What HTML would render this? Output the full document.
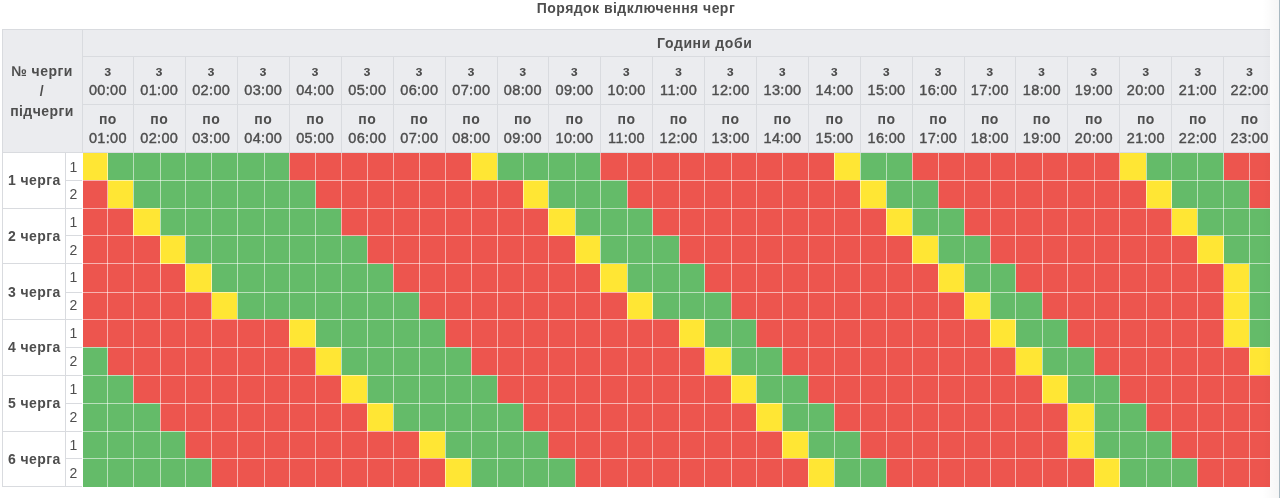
<!DOCTYPE html>
<html><head><meta charset="utf-8"><style>
html,body{margin:0;padding:0;background:#fff;}
body{width:1280px;height:498px;position:relative;overflow:hidden;font-family:"Liberation Sans",sans-serif;}
#g div{position:absolute;}
.t i{font-style:normal;font-weight:normal;font-size:14.5px;-webkit-text-stroke:0.4px #4e4e4e;letter-spacing:0.35px}
.t{position:absolute;font-size:14px;color:#4e4e4e;text-align:center;white-space:nowrap;}
</style></head><body>
<div id="g">
<div style="left:2.00px;top:29.00px;width:1268.00px;height:123.30px;background:#ebecef;"></div><div style="left:83.00px;top:152.00px;width:25.00px;height:28.00px;background:#ffe634;"></div><div style="left:108.00px;top:152.00px;width:181.00px;height:28.00px;background:#64bb69;"></div><div style="left:289.00px;top:152.00px;width:182.00px;height:28.00px;background:#ed554e;"></div><div style="left:471.00px;top:152.00px;width:26.00px;height:28.00px;background:#ffe634;"></div><div style="left:497.00px;top:152.00px;width:103.00px;height:28.00px;background:#64bb69;"></div><div style="left:600.00px;top:152.00px;width:234.00px;height:28.00px;background:#ed554e;"></div><div style="left:834.00px;top:152.00px;width:26.00px;height:28.00px;background:#ffe634;"></div><div style="left:860.00px;top:152.00px;width:52.00px;height:28.00px;background:#64bb69;"></div><div style="left:912.00px;top:152.00px;width:208.00px;height:28.00px;background:#ed554e;"></div><div style="left:1120.00px;top:152.00px;width:26.00px;height:28.00px;background:#ffe634;"></div><div style="left:1146.00px;top:152.00px;width:78.00px;height:28.00px;background:#64bb69;"></div><div style="left:1224.00px;top:152.00px;width:46.00px;height:28.00px;background:#ed554e;"></div><div style="left:83.00px;top:180.00px;width:25.00px;height:28.00px;background:#ed554e;"></div><div style="left:108.00px;top:180.00px;width:25.00px;height:28.00px;background:#ffe634;"></div><div style="left:133.00px;top:180.00px;width:183.00px;height:28.00px;background:#64bb69;"></div><div style="left:316.00px;top:180.00px;width:207.00px;height:28.00px;background:#ed554e;"></div><div style="left:523.00px;top:180.00px;width:25.00px;height:28.00px;background:#ffe634;"></div><div style="left:548.00px;top:180.00px;width:79.00px;height:28.00px;background:#64bb69;"></div><div style="left:627.00px;top:180.00px;width:233.00px;height:28.00px;background:#ed554e;"></div><div style="left:860.00px;top:180.00px;width:26.00px;height:28.00px;background:#ffe634;"></div><div style="left:886.00px;top:180.00px;width:52.00px;height:28.00px;background:#64bb69;"></div><div style="left:938.00px;top:180.00px;width:208.00px;height:28.00px;background:#ed554e;"></div><div style="left:1146.00px;top:180.00px;width:26.00px;height:28.00px;background:#ffe634;"></div><div style="left:1172.00px;top:180.00px;width:77.00px;height:28.00px;background:#64bb69;"></div><div style="left:1249.00px;top:180.00px;width:21.00px;height:28.00px;background:#ed554e;"></div><div style="left:83.00px;top:208.00px;width:50.00px;height:28.00px;background:#ed554e;"></div><div style="left:133.00px;top:208.00px;width:27.00px;height:28.00px;background:#ffe634;"></div><div style="left:160.00px;top:208.00px;width:181.00px;height:28.00px;background:#64bb69;"></div><div style="left:341.00px;top:208.00px;width:207.00px;height:28.00px;background:#ed554e;"></div><div style="left:548.00px;top:208.00px;width:27.00px;height:28.00px;background:#ffe634;"></div><div style="left:575.00px;top:208.00px;width:78.00px;height:28.00px;background:#64bb69;"></div><div style="left:653.00px;top:208.00px;width:233.00px;height:28.00px;background:#ed554e;"></div><div style="left:886.00px;top:208.00px;width:26.00px;height:28.00px;background:#ffe634;"></div><div style="left:912.00px;top:208.00px;width:52.00px;height:28.00px;background:#64bb69;"></div><div style="left:964.00px;top:208.00px;width:208.00px;height:28.00px;background:#ed554e;"></div><div style="left:1172.00px;top:208.00px;width:25.00px;height:28.00px;background:#ffe634;"></div><div style="left:1197.00px;top:208.00px;width:73.00px;height:28.00px;background:#64bb69;"></div><div style="left:83.00px;top:236.00px;width:77.00px;height:28.00px;background:#ed554e;"></div><div style="left:160.00px;top:236.00px;width:25.00px;height:28.00px;background:#ffe634;"></div><div style="left:185.00px;top:236.00px;width:182.00px;height:28.00px;background:#64bb69;"></div><div style="left:367.00px;top:236.00px;width:208.00px;height:28.00px;background:#ed554e;"></div><div style="left:575.00px;top:236.00px;width:25.00px;height:28.00px;background:#ffe634;"></div><div style="left:600.00px;top:236.00px;width:79.00px;height:28.00px;background:#64bb69;"></div><div style="left:679.00px;top:236.00px;width:233.00px;height:28.00px;background:#ed554e;"></div><div style="left:912.00px;top:236.00px;width:26.00px;height:28.00px;background:#ffe634;"></div><div style="left:938.00px;top:236.00px;width:52.00px;height:28.00px;background:#64bb69;"></div><div style="left:990.00px;top:236.00px;width:207.00px;height:28.00px;background:#ed554e;"></div><div style="left:1197.00px;top:236.00px;width:27.00px;height:28.00px;background:#ffe634;"></div><div style="left:1224.00px;top:236.00px;width:46.00px;height:28.00px;background:#64bb69;"></div><div style="left:83.00px;top:264.00px;width:102.00px;height:28.00px;background:#ed554e;"></div><div style="left:185.00px;top:264.00px;width:27.00px;height:28.00px;background:#ffe634;"></div><div style="left:212.00px;top:264.00px;width:181.00px;height:28.00px;background:#64bb69;"></div><div style="left:393.00px;top:264.00px;width:207.00px;height:28.00px;background:#ed554e;"></div><div style="left:600.00px;top:264.00px;width:27.00px;height:28.00px;background:#ffe634;"></div><div style="left:627.00px;top:264.00px;width:78.00px;height:28.00px;background:#64bb69;"></div><div style="left:705.00px;top:264.00px;width:233.00px;height:28.00px;background:#ed554e;"></div><div style="left:938.00px;top:264.00px;width:26.00px;height:28.00px;background:#ffe634;"></div><div style="left:964.00px;top:264.00px;width:52.00px;height:28.00px;background:#64bb69;"></div><div style="left:1016.00px;top:264.00px;width:208.00px;height:28.00px;background:#ed554e;"></div><div style="left:1224.00px;top:264.00px;width:25.00px;height:28.00px;background:#ffe634;"></div><div style="left:1249.00px;top:264.00px;width:21.00px;height:28.00px;background:#64bb69;"></div><div style="left:83.00px;top:292.00px;width:129.00px;height:27.00px;background:#ed554e;"></div><div style="left:212.00px;top:292.00px;width:25.00px;height:27.00px;background:#ffe634;"></div><div style="left:237.00px;top:292.00px;width:182.00px;height:27.00px;background:#64bb69;"></div><div style="left:419.00px;top:292.00px;width:208.00px;height:27.00px;background:#ed554e;"></div><div style="left:627.00px;top:292.00px;width:26.00px;height:27.00px;background:#ffe634;"></div><div style="left:653.00px;top:292.00px;width:78.00px;height:27.00px;background:#64bb69;"></div><div style="left:731.00px;top:292.00px;width:233.00px;height:27.00px;background:#ed554e;"></div><div style="left:964.00px;top:292.00px;width:26.00px;height:27.00px;background:#ffe634;"></div><div style="left:990.00px;top:292.00px;width:52.00px;height:27.00px;background:#64bb69;"></div><div style="left:1042.00px;top:292.00px;width:182.00px;height:27.00px;background:#ed554e;"></div><div style="left:1224.00px;top:292.00px;width:25.00px;height:27.00px;background:#ffe634;"></div><div style="left:1249.00px;top:292.00px;width:21.00px;height:27.00px;background:#64bb69;"></div><div style="left:83.00px;top:319.00px;width:206.00px;height:28.00px;background:#ed554e;"></div><div style="left:289.00px;top:319.00px;width:27.00px;height:28.00px;background:#ffe634;"></div><div style="left:316.00px;top:319.00px;width:129.00px;height:28.00px;background:#64bb69;"></div><div style="left:445.00px;top:319.00px;width:234.00px;height:28.00px;background:#ed554e;"></div><div style="left:679.00px;top:319.00px;width:26.00px;height:28.00px;background:#ffe634;"></div><div style="left:705.00px;top:319.00px;width:51.00px;height:28.00px;background:#64bb69;"></div><div style="left:756.00px;top:319.00px;width:234.00px;height:28.00px;background:#ed554e;"></div><div style="left:990.00px;top:319.00px;width:26.00px;height:28.00px;background:#ffe634;"></div><div style="left:1016.00px;top:319.00px;width:52.00px;height:28.00px;background:#64bb69;"></div><div style="left:1068.00px;top:319.00px;width:156.00px;height:28.00px;background:#ed554e;"></div><div style="left:1224.00px;top:319.00px;width:25.00px;height:28.00px;background:#ffe634;"></div><div style="left:1249.00px;top:319.00px;width:21.00px;height:28.00px;background:#64bb69;"></div><div style="left:83.00px;top:347.00px;width:25.00px;height:28.00px;background:#64bb69;"></div><div style="left:108.00px;top:347.00px;width:208.00px;height:28.00px;background:#ed554e;"></div><div style="left:316.00px;top:347.00px;width:25.00px;height:28.00px;background:#ffe634;"></div><div style="left:341.00px;top:347.00px;width:130.00px;height:28.00px;background:#64bb69;"></div><div style="left:471.00px;top:347.00px;width:234.00px;height:28.00px;background:#ed554e;"></div><div style="left:705.00px;top:347.00px;width:26.00px;height:28.00px;background:#ffe634;"></div><div style="left:731.00px;top:347.00px;width:51.00px;height:28.00px;background:#64bb69;"></div><div style="left:782.00px;top:347.00px;width:234.00px;height:28.00px;background:#ed554e;"></div><div style="left:1016.00px;top:347.00px;width:26.00px;height:28.00px;background:#ffe634;"></div><div style="left:1042.00px;top:347.00px;width:52.00px;height:28.00px;background:#64bb69;"></div><div style="left:1094.00px;top:347.00px;width:155.00px;height:28.00px;background:#ed554e;"></div><div style="left:1249.00px;top:347.00px;width:21.00px;height:28.00px;background:#ffe634;"></div><div style="left:83.00px;top:375.00px;width:50.00px;height:28.00px;background:#64bb69;"></div><div style="left:133.00px;top:375.00px;width:208.00px;height:28.00px;background:#ed554e;"></div><div style="left:341.00px;top:375.00px;width:26.00px;height:28.00px;background:#ffe634;"></div><div style="left:367.00px;top:375.00px;width:130.00px;height:28.00px;background:#64bb69;"></div><div style="left:497.00px;top:375.00px;width:234.00px;height:28.00px;background:#ed554e;"></div><div style="left:731.00px;top:375.00px;width:25.00px;height:28.00px;background:#ffe634;"></div><div style="left:756.00px;top:375.00px;width:52.00px;height:28.00px;background:#64bb69;"></div><div style="left:808.00px;top:375.00px;width:234.00px;height:28.00px;background:#ed554e;"></div><div style="left:1042.00px;top:375.00px;width:26.00px;height:28.00px;background:#ffe634;"></div><div style="left:1068.00px;top:375.00px;width:52.00px;height:28.00px;background:#64bb69;"></div><div style="left:1120.00px;top:375.00px;width:150.00px;height:28.00px;background:#ed554e;"></div><div style="left:83.00px;top:403.00px;width:77.00px;height:28.00px;background:#64bb69;"></div><div style="left:160.00px;top:403.00px;width:207.00px;height:28.00px;background:#ed554e;"></div><div style="left:367.00px;top:403.00px;width:26.00px;height:28.00px;background:#ffe634;"></div><div style="left:393.00px;top:403.00px;width:130.00px;height:28.00px;background:#64bb69;"></div><div style="left:523.00px;top:403.00px;width:233.00px;height:28.00px;background:#ed554e;"></div><div style="left:756.00px;top:403.00px;width:26.00px;height:28.00px;background:#ffe634;"></div><div style="left:782.00px;top:403.00px;width:52.00px;height:28.00px;background:#64bb69;"></div><div style="left:834.00px;top:403.00px;width:234.00px;height:28.00px;background:#ed554e;"></div><div style="left:1068.00px;top:403.00px;width:26.00px;height:28.00px;background:#ffe634;"></div><div style="left:1094.00px;top:403.00px;width:52.00px;height:28.00px;background:#64bb69;"></div><div style="left:1146.00px;top:403.00px;width:124.00px;height:28.00px;background:#ed554e;"></div><div style="left:83.00px;top:431.00px;width:102.00px;height:27.00px;background:#64bb69;"></div><div style="left:185.00px;top:431.00px;width:234.00px;height:27.00px;background:#ed554e;"></div><div style="left:419.00px;top:431.00px;width:26.00px;height:27.00px;background:#ffe634;"></div><div style="left:445.00px;top:431.00px;width:103.00px;height:27.00px;background:#64bb69;"></div><div style="left:548.00px;top:431.00px;width:234.00px;height:27.00px;background:#ed554e;"></div><div style="left:782.00px;top:431.00px;width:26.00px;height:27.00px;background:#ffe634;"></div><div style="left:808.00px;top:431.00px;width:52.00px;height:27.00px;background:#64bb69;"></div><div style="left:860.00px;top:431.00px;width:208.00px;height:27.00px;background:#ed554e;"></div><div style="left:1068.00px;top:431.00px;width:26.00px;height:27.00px;background:#ffe634;"></div><div style="left:1094.00px;top:431.00px;width:78.00px;height:27.00px;background:#64bb69;"></div><div style="left:1172.00px;top:431.00px;width:98.00px;height:27.00px;background:#ed554e;"></div><div style="left:83.00px;top:458.00px;width:129.00px;height:29.00px;background:#64bb69;"></div><div style="left:212.00px;top:458.00px;width:233.00px;height:29.00px;background:#ed554e;"></div><div style="left:445.00px;top:458.00px;width:26.00px;height:29.00px;background:#ffe634;"></div><div style="left:471.00px;top:458.00px;width:104.00px;height:29.00px;background:#64bb69;"></div><div style="left:575.00px;top:458.00px;width:233.00px;height:29.00px;background:#ed554e;"></div><div style="left:808.00px;top:458.00px;width:26.00px;height:29.00px;background:#ffe634;"></div><div style="left:834.00px;top:458.00px;width:52.00px;height:29.00px;background:#64bb69;"></div><div style="left:886.00px;top:458.00px;width:208.00px;height:29.00px;background:#ed554e;"></div><div style="left:1094.00px;top:458.00px;width:26.00px;height:29.00px;background:#ffe634;"></div><div style="left:1120.00px;top:458.00px;width:77.00px;height:29.00px;background:#64bb69;"></div><div style="left:1197.00px;top:458.00px;width:73.00px;height:29.00px;background:#ed554e;"></div><div style="left:107.00px;top:152.00px;width:1.00px;height:335.00px;background:rgba(255,255,255,0.55);"></div><div style="left:133.00px;top:152.00px;width:1.00px;height:335.00px;background:rgba(255,255,255,0.55);"></div><div style="left:160.00px;top:152.00px;width:1.00px;height:335.00px;background:rgba(255,255,255,0.55);"></div><div style="left:185.00px;top:152.00px;width:1.00px;height:335.00px;background:rgba(255,255,255,0.55);"></div><div style="left:211.00px;top:152.00px;width:1.00px;height:335.00px;background:rgba(255,255,255,0.55);"></div><div style="left:237.00px;top:152.00px;width:1.00px;height:335.00px;background:rgba(255,255,255,0.55);"></div><div style="left:264.00px;top:152.00px;width:1.00px;height:335.00px;background:rgba(255,255,255,0.55);"></div><div style="left:289.00px;top:152.00px;width:1.00px;height:335.00px;background:rgba(255,255,255,0.55);"></div><div style="left:315.00px;top:152.00px;width:1.00px;height:335.00px;background:rgba(255,255,255,0.55);"></div><div style="left:341.00px;top:152.00px;width:1.00px;height:335.00px;background:rgba(255,255,255,0.55);"></div><div style="left:367.00px;top:152.00px;width:1.00px;height:335.00px;background:rgba(255,255,255,0.55);"></div><div style="left:393.00px;top:152.00px;width:1.00px;height:335.00px;background:rgba(255,255,255,0.55);"></div><div style="left:419.00px;top:152.00px;width:1.00px;height:335.00px;background:rgba(255,255,255,0.55);"></div><div style="left:445.00px;top:152.00px;width:1.00px;height:335.00px;background:rgba(255,255,255,0.55);"></div><div style="left:471.00px;top:152.00px;width:1.00px;height:335.00px;background:rgba(255,255,255,0.55);"></div><div style="left:497.00px;top:152.00px;width:1.00px;height:335.00px;background:rgba(255,255,255,0.55);"></div><div style="left:523.00px;top:152.00px;width:1.00px;height:335.00px;background:rgba(255,255,255,0.55);"></div><div style="left:548.00px;top:152.00px;width:1.00px;height:335.00px;background:rgba(255,255,255,0.55);"></div><div style="left:575.00px;top:152.00px;width:1.00px;height:335.00px;background:rgba(255,255,255,0.55);"></div><div style="left:600.00px;top:152.00px;width:1.00px;height:335.00px;background:rgba(255,255,255,0.55);"></div><div style="left:627.00px;top:152.00px;width:1.00px;height:335.00px;background:rgba(255,255,255,0.55);"></div><div style="left:652.00px;top:152.00px;width:1.00px;height:335.00px;background:rgba(255,255,255,0.55);"></div><div style="left:679.00px;top:152.00px;width:1.00px;height:335.00px;background:rgba(255,255,255,0.55);"></div><div style="left:704.00px;top:152.00px;width:1.00px;height:335.00px;background:rgba(255,255,255,0.55);"></div><div style="left:731.00px;top:152.00px;width:1.00px;height:335.00px;background:rgba(255,255,255,0.55);"></div><div style="left:756.00px;top:152.00px;width:1.00px;height:335.00px;background:rgba(255,255,255,0.55);"></div><div style="left:782.00px;top:152.00px;width:1.00px;height:335.00px;background:rgba(255,255,255,0.55);"></div><div style="left:808.00px;top:152.00px;width:1.00px;height:335.00px;background:rgba(255,255,255,0.55);"></div><div style="left:834.00px;top:152.00px;width:1.00px;height:335.00px;background:rgba(255,255,255,0.55);"></div><div style="left:860.00px;top:152.00px;width:1.00px;height:335.00px;background:rgba(255,255,255,0.55);"></div><div style="left:886.00px;top:152.00px;width:1.00px;height:335.00px;background:rgba(255,255,255,0.55);"></div><div style="left:912.00px;top:152.00px;width:1.00px;height:335.00px;background:rgba(255,255,255,0.55);"></div><div style="left:938.00px;top:152.00px;width:1.00px;height:335.00px;background:rgba(255,255,255,0.55);"></div><div style="left:964.00px;top:152.00px;width:1.00px;height:335.00px;background:rgba(255,255,255,0.55);"></div><div style="left:990.00px;top:152.00px;width:1.00px;height:335.00px;background:rgba(255,255,255,0.55);"></div><div style="left:1015.00px;top:152.00px;width:1.00px;height:335.00px;background:rgba(255,255,255,0.55);"></div><div style="left:1042.00px;top:152.00px;width:1.00px;height:335.00px;background:rgba(255,255,255,0.55);"></div><div style="left:1067.00px;top:152.00px;width:1.00px;height:335.00px;background:rgba(255,255,255,0.55);"></div><div style="left:1094.00px;top:152.00px;width:1.00px;height:335.00px;background:rgba(255,255,255,0.55);"></div><div style="left:1119.00px;top:152.00px;width:1.00px;height:335.00px;background:rgba(255,255,255,0.55);"></div><div style="left:1146.00px;top:152.00px;width:1.00px;height:335.00px;background:rgba(255,255,255,0.55);"></div><div style="left:1171.00px;top:152.00px;width:1.00px;height:335.00px;background:rgba(255,255,255,0.55);"></div><div style="left:1197.00px;top:152.00px;width:1.00px;height:335.00px;background:rgba(255,255,255,0.55);"></div><div style="left:1223.00px;top:152.00px;width:1.00px;height:335.00px;background:rgba(255,255,255,0.55);"></div><div style="left:1249.00px;top:152.00px;width:1.00px;height:335.00px;background:rgba(255,255,255,0.55);"></div><div style="left:83.00px;top:180.00px;width:1187.00px;height:1.00px;background:rgba(255,255,255,0.55);"></div><div style="left:83.00px;top:208.00px;width:1187.00px;height:1.00px;background:rgba(255,255,255,0.55);"></div><div style="left:83.00px;top:235.00px;width:1187.00px;height:1.00px;background:rgba(255,255,255,0.55);"></div><div style="left:83.00px;top:263.00px;width:1187.00px;height:1.00px;background:rgba(255,255,255,0.55);"></div><div style="left:83.00px;top:292.00px;width:1187.00px;height:1.00px;background:rgba(255,255,255,0.55);"></div><div style="left:83.00px;top:319.00px;width:1187.00px;height:1.00px;background:rgba(255,255,255,0.55);"></div><div style="left:83.00px;top:347.00px;width:1187.00px;height:1.00px;background:rgba(255,255,255,0.55);"></div><div style="left:83.00px;top:375.00px;width:1187.00px;height:1.00px;background:rgba(255,255,255,0.55);"></div><div style="left:83.00px;top:403.00px;width:1187.00px;height:1.00px;background:rgba(255,255,255,0.55);"></div><div style="left:83.00px;top:431.00px;width:1187.00px;height:1.00px;background:rgba(255,255,255,0.55);"></div><div style="left:83.00px;top:458.00px;width:1187.00px;height:1.00px;background:rgba(255,255,255,0.55);"></div><div style="left:2.00px;top:28.80px;width:1268.00px;height:1.00px;background:#d9dbdf;"></div><div style="left:1.80px;top:28.80px;width:1.00px;height:457.80px;background:#d9dbdf;"></div><div style="left:81.60px;top:28.80px;width:1.00px;height:123.50px;background:#d9dbdf;"></div><div style="left:82.00px;top:55.60px;width:1188.00px;height:1.00px;background:#d9dbdf;"></div><div style="left:82.00px;top:103.80px;width:1188.00px;height:1.00px;background:#d9dbdf;"></div><div style="left:2.00px;top:151.80px;width:1268.00px;height:1.00px;background:#d9dbdf;"></div><div style="left:132.80px;top:56.00px;width:1.00px;height:96.00px;background:#d9dbdf;"></div><div style="left:184.70px;top:56.00px;width:1.00px;height:96.00px;background:#d9dbdf;"></div><div style="left:236.80px;top:56.00px;width:1.00px;height:96.00px;background:#d9dbdf;"></div><div style="left:288.70px;top:56.00px;width:1.00px;height:96.00px;background:#d9dbdf;"></div><div style="left:340.80px;top:56.00px;width:1.00px;height:96.00px;background:#d9dbdf;"></div><div style="left:392.80px;top:56.00px;width:1.00px;height:96.00px;background:#d9dbdf;"></div><div style="left:444.80px;top:56.00px;width:1.00px;height:96.00px;background:#d9dbdf;"></div><div style="left:496.80px;top:56.00px;width:1.00px;height:96.00px;background:#d9dbdf;"></div><div style="left:548.00px;top:56.00px;width:1.00px;height:96.00px;background:#d9dbdf;"></div><div style="left:600.00px;top:56.00px;width:1.00px;height:96.00px;background:#d9dbdf;"></div><div style="left:652.10px;top:56.00px;width:1.00px;height:96.00px;background:#d9dbdf;"></div><div style="left:704.10px;top:56.00px;width:1.00px;height:96.00px;background:#d9dbdf;"></div><div style="left:756.00px;top:56.00px;width:1.00px;height:96.00px;background:#d9dbdf;"></div><div style="left:808.00px;top:56.00px;width:1.00px;height:96.00px;background:#d9dbdf;"></div><div style="left:860.00px;top:56.00px;width:1.00px;height:96.00px;background:#d9dbdf;"></div><div style="left:912.00px;top:56.00px;width:1.00px;height:96.00px;background:#d9dbdf;"></div><div style="left:963.50px;top:56.00px;width:1.00px;height:96.00px;background:#d9dbdf;"></div><div style="left:1015.25px;top:56.00px;width:1.00px;height:96.00px;background:#d9dbdf;"></div><div style="left:1067.40px;top:56.00px;width:1.00px;height:96.00px;background:#d9dbdf;"></div><div style="left:1119.40px;top:56.00px;width:1.00px;height:96.00px;background:#d9dbdf;"></div><div style="left:1171.40px;top:56.00px;width:1.00px;height:96.00px;background:#d9dbdf;"></div><div style="left:1223.40px;top:56.00px;width:1.00px;height:96.00px;background:#d9dbdf;"></div><div style="left:65.20px;top:152.30px;width:1.00px;height:334.50px;background:#d9dbdf;"></div><div style="left:2.00px;top:208.00px;width:80.00px;height:1.00px;background:#d9dbdf;"></div><div style="left:2.00px;top:263.30px;width:80.00px;height:1.00px;background:#d9dbdf;"></div><div style="left:2.00px;top:318.80px;width:80.00px;height:1.00px;background:#d9dbdf;"></div><div style="left:2.00px;top:374.90px;width:80.00px;height:1.00px;background:#d9dbdf;"></div><div style="left:2.00px;top:430.70px;width:80.00px;height:1.00px;background:#d9dbdf;"></div><div style="left:65.20px;top:179.70px;width:17.00px;height:1.00px;background:#d9dbdf;"></div><div style="left:65.20px;top:235.10px;width:17.00px;height:1.00px;background:#d9dbdf;"></div><div style="left:65.20px;top:291.55px;width:17.00px;height:1.00px;background:#d9dbdf;"></div><div style="left:65.20px;top:346.55px;width:17.00px;height:1.00px;background:#d9dbdf;"></div><div style="left:65.20px;top:402.80px;width:17.00px;height:1.00px;background:#d9dbdf;"></div><div style="left:65.20px;top:458.00px;width:17.00px;height:1.00px;background:#d9dbdf;"></div><div style="left:2.00px;top:486.30px;width:80.00px;height:1.20px;background:#d9dbdf;"></div><div style="left:1262.00px;top:0.00px;width:17.00px;height:498.00px;background:linear-gradient(to right,rgba(0,0,0,0),rgba(0,0,0,0.035));"></div><div style="left:1279.00px;top:0.00px;width:1.00px;height:498.00px;background:#a9b9c2;"></div>
</div>
<div style="position:absolute;left:0;top:0;width:1280px;height:498px;will-change:transform"><div class="t" style="left:0.00px;top:-3.00px;width:1272.00px;height:22.00px;font-weight:bold;line-height:22px;letter-spacing:0.45px;">Порядок відключення черг</div><div class="t" style="left:82.00px;top:30.00px;width:1245.60px;height:27.00px;font-weight:bold;line-height:27px;letter-spacing:0.6px;">Години доби</div><div class="t" style="left:2.00px;top:29.00px;width:80.00px;height:123.00px;font-weight:bold;letter-spacing:0.45px;display:flex;align-items:center;justify-content:center;line-height:20px;"><span>№ черги<br>/<br>підчерги</span></div><div class="t" style="left:82.60px;top:56.60px;width:50.70px;height:48.00px;font-weight:bold;letter-spacing:0.45px;display:flex;align-items:center;justify-content:center;line-height:19px;"><span>з<br><i>00:00</i></span></div><div class="t" style="left:82.60px;top:104.90px;width:50.70px;height:48.00px;font-weight:bold;letter-spacing:0.45px;display:flex;align-items:center;justify-content:center;line-height:19px;"><span>по<br><i>01:00</i></span></div><div class="t" style="left:133.30px;top:56.60px;width:51.90px;height:48.00px;font-weight:bold;letter-spacing:0.45px;display:flex;align-items:center;justify-content:center;line-height:19px;"><span>з<br><i>01:00</i></span></div><div class="t" style="left:133.30px;top:104.90px;width:51.90px;height:48.00px;font-weight:bold;letter-spacing:0.45px;display:flex;align-items:center;justify-content:center;line-height:19px;"><span>по<br><i>02:00</i></span></div><div class="t" style="left:185.20px;top:56.60px;width:52.10px;height:48.00px;font-weight:bold;letter-spacing:0.45px;display:flex;align-items:center;justify-content:center;line-height:19px;"><span>з<br><i>02:00</i></span></div><div class="t" style="left:185.20px;top:104.90px;width:52.10px;height:48.00px;font-weight:bold;letter-spacing:0.45px;display:flex;align-items:center;justify-content:center;line-height:19px;"><span>по<br><i>03:00</i></span></div><div class="t" style="left:237.30px;top:56.60px;width:51.90px;height:48.00px;font-weight:bold;letter-spacing:0.45px;display:flex;align-items:center;justify-content:center;line-height:19px;"><span>з<br><i>03:00</i></span></div><div class="t" style="left:237.30px;top:104.90px;width:51.90px;height:48.00px;font-weight:bold;letter-spacing:0.45px;display:flex;align-items:center;justify-content:center;line-height:19px;"><span>по<br><i>04:00</i></span></div><div class="t" style="left:289.20px;top:56.60px;width:52.10px;height:48.00px;font-weight:bold;letter-spacing:0.45px;display:flex;align-items:center;justify-content:center;line-height:19px;"><span>з<br><i>04:00</i></span></div><div class="t" style="left:289.20px;top:104.90px;width:52.10px;height:48.00px;font-weight:bold;letter-spacing:0.45px;display:flex;align-items:center;justify-content:center;line-height:19px;"><span>по<br><i>05:00</i></span></div><div class="t" style="left:341.30px;top:56.60px;width:52.00px;height:48.00px;font-weight:bold;letter-spacing:0.45px;display:flex;align-items:center;justify-content:center;line-height:19px;"><span>з<br><i>05:00</i></span></div><div class="t" style="left:341.30px;top:104.90px;width:52.00px;height:48.00px;font-weight:bold;letter-spacing:0.45px;display:flex;align-items:center;justify-content:center;line-height:19px;"><span>по<br><i>06:00</i></span></div><div class="t" style="left:393.30px;top:56.60px;width:52.00px;height:48.00px;font-weight:bold;letter-spacing:0.45px;display:flex;align-items:center;justify-content:center;line-height:19px;"><span>з<br><i>06:00</i></span></div><div class="t" style="left:393.30px;top:104.90px;width:52.00px;height:48.00px;font-weight:bold;letter-spacing:0.45px;display:flex;align-items:center;justify-content:center;line-height:19px;"><span>по<br><i>07:00</i></span></div><div class="t" style="left:445.30px;top:56.60px;width:52.00px;height:48.00px;font-weight:bold;letter-spacing:0.45px;display:flex;align-items:center;justify-content:center;line-height:19px;"><span>з<br><i>07:00</i></span></div><div class="t" style="left:445.30px;top:104.90px;width:52.00px;height:48.00px;font-weight:bold;letter-spacing:0.45px;display:flex;align-items:center;justify-content:center;line-height:19px;"><span>по<br><i>08:00</i></span></div><div class="t" style="left:497.30px;top:56.60px;width:51.20px;height:48.00px;font-weight:bold;letter-spacing:0.45px;display:flex;align-items:center;justify-content:center;line-height:19px;"><span>з<br><i>08:00</i></span></div><div class="t" style="left:497.30px;top:104.90px;width:51.20px;height:48.00px;font-weight:bold;letter-spacing:0.45px;display:flex;align-items:center;justify-content:center;line-height:19px;"><span>по<br><i>09:00</i></span></div><div class="t" style="left:548.50px;top:56.60px;width:52.00px;height:48.00px;font-weight:bold;letter-spacing:0.45px;display:flex;align-items:center;justify-content:center;line-height:19px;"><span>з<br><i>09:00</i></span></div><div class="t" style="left:548.50px;top:104.90px;width:52.00px;height:48.00px;font-weight:bold;letter-spacing:0.45px;display:flex;align-items:center;justify-content:center;line-height:19px;"><span>по<br><i>10:00</i></span></div><div class="t" style="left:600.50px;top:56.60px;width:52.10px;height:48.00px;font-weight:bold;letter-spacing:0.45px;display:flex;align-items:center;justify-content:center;line-height:19px;"><span>з<br><i>10:00</i></span></div><div class="t" style="left:600.50px;top:104.90px;width:52.10px;height:48.00px;font-weight:bold;letter-spacing:0.45px;display:flex;align-items:center;justify-content:center;line-height:19px;"><span>по<br><i>11:00</i></span></div><div class="t" style="left:652.60px;top:56.60px;width:52.00px;height:48.00px;font-weight:bold;letter-spacing:0.45px;display:flex;align-items:center;justify-content:center;line-height:19px;"><span>з<br><i>11:00</i></span></div><div class="t" style="left:652.60px;top:104.90px;width:52.00px;height:48.00px;font-weight:bold;letter-spacing:0.45px;display:flex;align-items:center;justify-content:center;line-height:19px;"><span>по<br><i>12:00</i></span></div><div class="t" style="left:704.60px;top:56.60px;width:51.90px;height:48.00px;font-weight:bold;letter-spacing:0.45px;display:flex;align-items:center;justify-content:center;line-height:19px;"><span>з<br><i>12:00</i></span></div><div class="t" style="left:704.60px;top:104.90px;width:51.90px;height:48.00px;font-weight:bold;letter-spacing:0.45px;display:flex;align-items:center;justify-content:center;line-height:19px;"><span>по<br><i>13:00</i></span></div><div class="t" style="left:756.50px;top:56.60px;width:52.00px;height:48.00px;font-weight:bold;letter-spacing:0.45px;display:flex;align-items:center;justify-content:center;line-height:19px;"><span>з<br><i>13:00</i></span></div><div class="t" style="left:756.50px;top:104.90px;width:52.00px;height:48.00px;font-weight:bold;letter-spacing:0.45px;display:flex;align-items:center;justify-content:center;line-height:19px;"><span>по<br><i>14:00</i></span></div><div class="t" style="left:808.50px;top:56.60px;width:52.00px;height:48.00px;font-weight:bold;letter-spacing:0.45px;display:flex;align-items:center;justify-content:center;line-height:19px;"><span>з<br><i>14:00</i></span></div><div class="t" style="left:808.50px;top:104.90px;width:52.00px;height:48.00px;font-weight:bold;letter-spacing:0.45px;display:flex;align-items:center;justify-content:center;line-height:19px;"><span>по<br><i>15:00</i></span></div><div class="t" style="left:860.50px;top:56.60px;width:52.00px;height:48.00px;font-weight:bold;letter-spacing:0.45px;display:flex;align-items:center;justify-content:center;line-height:19px;"><span>з<br><i>15:00</i></span></div><div class="t" style="left:860.50px;top:104.90px;width:52.00px;height:48.00px;font-weight:bold;letter-spacing:0.45px;display:flex;align-items:center;justify-content:center;line-height:19px;"><span>по<br><i>16:00</i></span></div><div class="t" style="left:912.50px;top:56.60px;width:51.50px;height:48.00px;font-weight:bold;letter-spacing:0.45px;display:flex;align-items:center;justify-content:center;line-height:19px;"><span>з<br><i>16:00</i></span></div><div class="t" style="left:912.50px;top:104.90px;width:51.50px;height:48.00px;font-weight:bold;letter-spacing:0.45px;display:flex;align-items:center;justify-content:center;line-height:19px;"><span>по<br><i>17:00</i></span></div><div class="t" style="left:964.00px;top:56.60px;width:51.75px;height:48.00px;font-weight:bold;letter-spacing:0.45px;display:flex;align-items:center;justify-content:center;line-height:19px;"><span>з<br><i>17:00</i></span></div><div class="t" style="left:964.00px;top:104.90px;width:51.75px;height:48.00px;font-weight:bold;letter-spacing:0.45px;display:flex;align-items:center;justify-content:center;line-height:19px;"><span>по<br><i>18:00</i></span></div><div class="t" style="left:1015.75px;top:56.60px;width:52.15px;height:48.00px;font-weight:bold;letter-spacing:0.45px;display:flex;align-items:center;justify-content:center;line-height:19px;"><span>з<br><i>18:00</i></span></div><div class="t" style="left:1015.75px;top:104.90px;width:52.15px;height:48.00px;font-weight:bold;letter-spacing:0.45px;display:flex;align-items:center;justify-content:center;line-height:19px;"><span>по<br><i>19:00</i></span></div><div class="t" style="left:1067.90px;top:56.60px;width:52.00px;height:48.00px;font-weight:bold;letter-spacing:0.45px;display:flex;align-items:center;justify-content:center;line-height:19px;"><span>з<br><i>19:00</i></span></div><div class="t" style="left:1067.90px;top:104.90px;width:52.00px;height:48.00px;font-weight:bold;letter-spacing:0.45px;display:flex;align-items:center;justify-content:center;line-height:19px;"><span>по<br><i>20:00</i></span></div><div class="t" style="left:1119.90px;top:56.60px;width:52.00px;height:48.00px;font-weight:bold;letter-spacing:0.45px;display:flex;align-items:center;justify-content:center;line-height:19px;"><span>з<br><i>20:00</i></span></div><div class="t" style="left:1119.90px;top:104.90px;width:52.00px;height:48.00px;font-weight:bold;letter-spacing:0.45px;display:flex;align-items:center;justify-content:center;line-height:19px;"><span>по<br><i>21:00</i></span></div><div class="t" style="left:1171.90px;top:56.60px;width:52.00px;height:48.00px;font-weight:bold;letter-spacing:0.45px;display:flex;align-items:center;justify-content:center;line-height:19px;"><span>з<br><i>21:00</i></span></div><div class="t" style="left:1171.90px;top:104.90px;width:52.00px;height:48.00px;font-weight:bold;letter-spacing:0.45px;display:flex;align-items:center;justify-content:center;line-height:19px;"><span>по<br><i>22:00</i></span></div><div class="t" style="left:1223.90px;top:56.60px;width:51.50px;height:48.00px;font-weight:bold;letter-spacing:0.45px;display:flex;align-items:center;justify-content:center;line-height:19px;"><span>з<br><i>22:00</i></span></div><div class="t" style="left:1223.90px;top:104.90px;width:51.50px;height:48.00px;font-weight:bold;letter-spacing:0.45px;display:flex;align-items:center;justify-content:center;line-height:19px;"><span>по<br><i>23:00</i></span></div><div class="t" style="left:2.80px;top:151.80px;width:63.00px;height:56.20px;font-weight:bold;letter-spacing:0.4px;line-height:56.2px;">1 черга</div><div class="t" style="left:65.00px;top:158.85px;width:17.00px;height:16.00px;line-height:16px;">1</div><div class="t" style="left:65.00px;top:185.65px;width:17.00px;height:16.00px;line-height:16px;">2</div><div class="t" style="left:2.80px;top:209.20px;width:63.00px;height:55.30px;font-weight:bold;letter-spacing:0.4px;line-height:55.3px;">2 черга</div><div class="t" style="left:65.00px;top:214.05px;width:17.00px;height:16.00px;line-height:16px;">1</div><div class="t" style="left:65.00px;top:242.05px;width:17.00px;height:16.00px;line-height:16px;">2</div><div class="t" style="left:2.80px;top:264.80px;width:63.00px;height:55.50px;font-weight:bold;letter-spacing:0.4px;line-height:55.5px;">3 черга</div><div class="t" style="left:65.00px;top:269.45px;width:17.00px;height:16.00px;line-height:16px;">1</div><div class="t" style="left:65.00px;top:297.05px;width:17.00px;height:16.00px;line-height:16px;">2</div><div class="t" style="left:2.80px;top:318.80px;width:63.00px;height:56.10px;font-weight:bold;letter-spacing:0.4px;line-height:56.1px;">4 черга</div><div class="t" style="left:65.00px;top:325.20px;width:17.00px;height:16.00px;line-height:16px;">1</div><div class="t" style="left:65.00px;top:353.05px;width:17.00px;height:16.00px;line-height:16px;">2</div><div class="t" style="left:2.80px;top:375.50px;width:63.00px;height:55.80px;font-weight:bold;letter-spacing:0.4px;line-height:55.8px;">5 черга</div><div class="t" style="left:65.00px;top:381.30px;width:17.00px;height:16.00px;line-height:16px;">1</div><div class="t" style="left:65.00px;top:408.65px;width:17.00px;height:16.00px;line-height:16px;">2</div><div class="t" style="left:2.80px;top:431.90px;width:63.00px;height:55.60px;font-weight:bold;letter-spacing:0.4px;line-height:55.6px;">6 черга</div><div class="t" style="left:65.00px;top:436.90px;width:17.00px;height:16.00px;line-height:16px;">1</div><div class="t" style="left:65.00px;top:464.80px;width:17.00px;height:16.00px;line-height:16px;">2</div></div>
</body></html>
